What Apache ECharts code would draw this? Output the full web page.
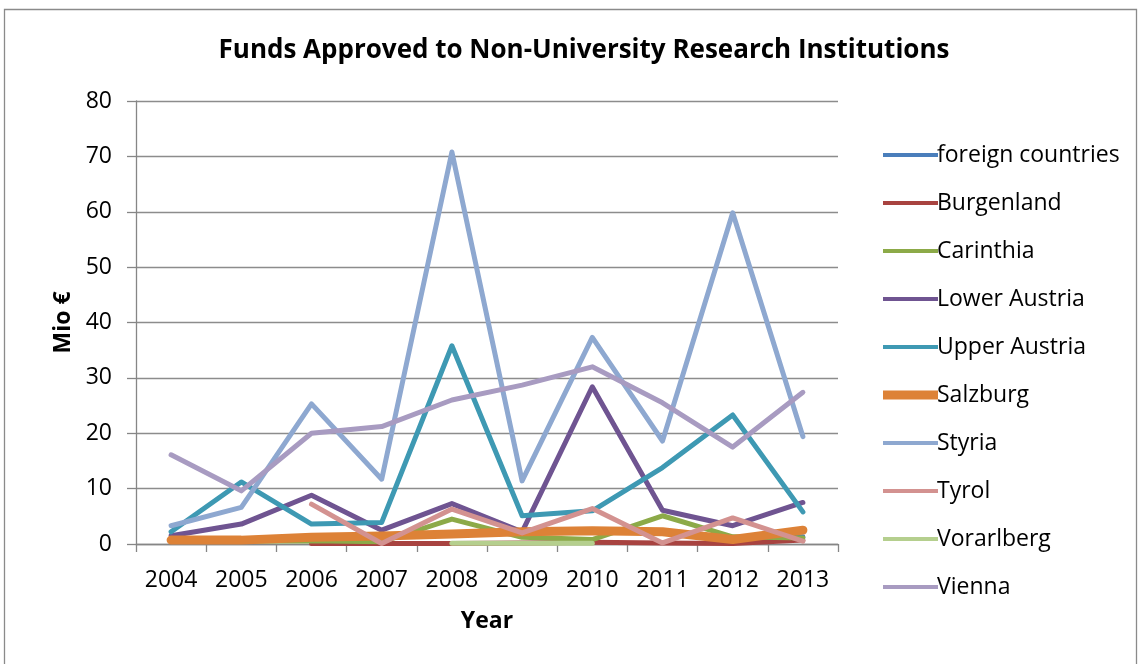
<!DOCTYPE html>
<html>
<head>
<meta charset="utf-8">
<script src="https://cdn.jsdelivr.net/npm/echarts@6/dist/echarts.min.js"></script>
<style>html,body{margin:0;padding:0;background:#fff;}#c{width:1140px;height:664px;}</style>
</head>
<body>
<div id="c"></div>
<script>
const years = ['2004','2005','2006','2007','2008','2009','2010','2011','2012','2013'];
const foreignCountries = [null, null, null, null, null, null, null, null, 0.5, 1.3];
const burgenland = [null, null, 0.1, 0.1, 0.1, 0.2, 0.3, 0.2, 0.1, 0.7];
const carinthia = [0.5, 0.5, 0.6, 0.4, 4.5, 1.2, 0.8, 5.1, 1.3, 1.1];
const lowerAustria = [1.5, 3.6, 8.8, 2.5, 7.3, 2.2, 28.4, 6.1, 3.3, 7.5];
const upperAustria = [2.2, 11.2, 3.6, 3.9, 35.8, 5.1, 6.0, 13.8, 23.3, 5.8];
const salzburg = [0.7, 0.7, 1.2, 1.45, 1.8, 2.2, 2.4, 2.2, 0.8, 2.5];
const styria = [3.3, 6.6, 25.3, 11.7, 70.8, 11.4, 37.3, 18.6, 59.8, 19.4];
const tyrol = [null, null, 7.2, 0.1, 6.3, 2.0, 6.4, 0.2, 4.7, 0.5];
const vorarlberg = [null, null, null, null, 0.15, 0.15, 0.15, null, null, null];
const vienna = [16.1, 9.6, 20.0, 21.2, 26.0, 28.7, 32.0, 25.5, 17.5, 27.4];
const yTicks = [0, 10, 20, 30, 40, 50, 60, 70, 80];

const seriesDefs = [
  ['foreign countries', foreignCountries, '#4A7EBB', 5],
  ['Burgenland', burgenland, '#A84340', 5],
  ['Carinthia', carinthia, '#8CAA48', 5],
  ['Lower Austria', lowerAustria, '#6F5491', 5],
  ['Upper Austria', upperAustria, '#3E99B3', 5],
  ['Salzburg', salzburg, '#DD8237', 9],
  ['Styria', styria, '#8EA8D0', 5],
  ['Tyrol', tyrol, '#D39290', 5],
  ['Vorarlberg', vorarlberg, '#B5CF8E', 5],
  ['Vienna', vienna, '#A89BC1', 5]
];

const thinIcon = 'path://M0,0L55,0L0,0.001Z M0,2.4L55,2.4L55,6.6L0,6.6Z M0,9L55,9L0,9.001Z';
const thickIcon = 'path://M0,0L55,0L55,9L0,9Z';

const FONT = 'Open Sans';
const chart = echarts.init(document.getElementById('c'), null, {renderer: 'canvas'});
chart.setOption({
  animation: false,
  backgroundColor: '#ffffff',
  graphic: [{
    type: 'rect', silent: true, z: -10,
    shape: {x: 4.5, y: 9.5, width: 1132, height: 720},
    style: {fill: 'none', stroke: '#8a8a8a', lineWidth: 1.3}
  }],
  title: {
    text: 'Funds Approved to Non-University Research Institutions',
    left: 579, top: 33, textAlign: 'center',
    textStyle: {fontFamily: FONT, fontWeight: 'bold', fontSize: 26, color: '#000'}
  },
  grid: {left: 136, right: 302, top: 101, bottom: 120, containLabel: false},
  legend: {
    orient: 'vertical', left: 878, top: 138,
    itemWidth: 55, itemHeight: 9, itemGap: 24,
    textStyle: {fontFamily: FONT, fontSize: 23, color: '#000', lineHeight: 24, padding: [0,0,0,-6]},
    data: seriesDefs.map(d => ({name: d[0], icon: d[3] > 6 ? thickIcon : thinIcon}))
  },
  xAxis: {
    type: 'category', data: years, boundaryGap: true,
    name: 'Year', nameLocation: 'middle', nameGap: 66,
    nameTextStyle: {fontFamily: FONT, fontWeight: 'bold', fontSize: 23, color: '#000'},
    axisLine: {show: true, lineStyle: {color: '#868686', width: 1.3}},
    axisTick: {show: true, inside: false, length: 8, alignWithLabel: false, interval: 0, lineStyle: {color: '#868686', width: 1.3}},
    axisLabel: {fontFamily: FONT, fontSize: 23, color: '#000', margin: 25, interval: 0},
    splitLine: {show: false}
  },
  yAxis: {
    type: 'value', min: 0, max: 80, interval: 10,
    name: 'Mio €', nameLocation: 'middle', nameGap: 60, nameRotate: 90,
    nameTextStyle: {fontFamily: FONT, fontWeight: 'bold', fontSize: 23, color: '#000'},
    axisLine: {show: true, lineStyle: {color: '#868686', width: 1.3}},
    axisTick: {show: true, inside: false, length: 9, lineStyle: {color: '#868686', width: 1.3}},
    axisLabel: {fontFamily: FONT, fontSize: 23, color: '#000', margin: 24,
      formatter: v => (yTicks.indexOf(v) >= 0 ? String(v) : '')},
    splitLine: {show: true, lineStyle: {color: '#8c8c8c', width: 1.3}}
  },
  series: seriesDefs.map(d => ({
    name: d[0], type: 'line', data: d[1], color: d[2],
    symbol: 'none', showSymbol: false, connectNulls: false,
    lineStyle: {color: d[2], width: d[3], cap: 'round', join: 'round'},
    itemStyle: {color: d[2]},
    emphasis: {disabled: true}
  }))
});
</script>
</body>
</html>
